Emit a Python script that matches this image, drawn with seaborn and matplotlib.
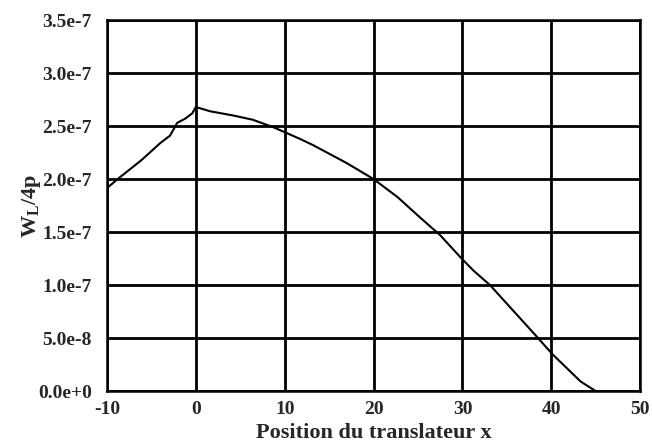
import numpy as np
import pandas as pd
import matplotlib
matplotlib.use("Agg")
import matplotlib.pyplot as plt
import seaborn as sns

# ===============================
# Data
# ===============================
position = [-10, -8.5, -6.1, -4.0, -2.9, -2.1, -1.2, -0.4, 0.0, 1.6, 4.2, 6.4, 8.7,
            11.7, 13.2, 17.0, 20.0, 22.7, 25.2, 27.5, 29.8, 31.2, 33.1, 38.4, 40.1,
            43.3, 45.0]
w_l = [1.915e-7, 2.02e-7, 2.18e-7, 2.34e-7, 2.41e-7, 2.53e-7, 2.57e-7, 2.62e-7,
       2.68e-7, 2.64e-7, 2.60e-7, 2.56e-7, 2.49e-7, 2.38e-7, 2.32e-7, 2.15e-7,
       2.00e-7, 1.83e-7, 1.64e-7, 1.47e-7, 1.26e-7, 1.14e-7, 1.00e-7, 0.51e-7,
       0.35e-7, 0.09e-7, 0.0]

xticks = [-10, 0, 10, 20, 30, 40, 50]
yticks = [0, 0.5e-7, 1.0e-7, 1.5e-7, 2.0e-7, 2.5e-7, 3.0e-7, 3.5e-7]
ytick_labels = ["0.0e+0", "5.0e-8", "1.0e-7", "1.5e-7", "2.0e-7", "2.5e-7", "3.0e-7", "3.5e-7"]

df = pd.DataFrame({"x": position, "w": w_l})

# ===============================
# Style
# ===============================
sns.set_style("white")
plt.rcParams["font.family"] = ["Liberation Serif", "DejaVu Serif"]
plt.rcParams["font.weight"] = "bold"
plt.rcParams["axes.unicode_minus"] = False
plt.rcParams["mathtext.fontset"] = "custom"
plt.rcParams["mathtext.rm"] = "Liberation Serif:bold"
plt.rcParams["mathtext.bf"] = "Liberation Serif:bold"
plt.rcParams["mathtext.it"] = "Liberation Serif:bold"

fig = plt.figure(figsize=(6.52, 4.46), dpi=100)
ax = fig.add_axes([0.164, 0.123, 0.818, 0.832])

sns.lineplot(data=df, x="x", y="w", color="black", linewidth=1.5, ax=ax)

ax.set_xlim(-10, 50)
ax.set_ylim(0, 3.5e-7)
ax.set_xticks(xticks)
ax.set_xticklabels([str(t) for t in xticks])
ax.set_yticks(yticks)
ax.set_yticklabels(ytick_labels)
ax.grid(True, color="black", linewidth=2)
ax.tick_params(axis="x", length=0, labelsize=14, pad=7)
ax.tick_params(axis="y", length=0, labelsize=14, pad=11)
for lab in ax.get_xticklabels() + ax.get_yticklabels():
    lab.set_fontweight("bold")
for s in ax.spines.values():
    s.set_color("black")
    s.set_linewidth(1.8)

ax.set_xlabel("Position du translateur x", fontsize=16, fontweight="bold", labelpad=4)
ax.set_ylabel(r"W$_\mathrm{L}$/4p", fontsize=16, fontweight="bold")
ax.yaxis.set_label_coords(-0.12, 0.5)

fig.savefig("out.png", dpi=100)
